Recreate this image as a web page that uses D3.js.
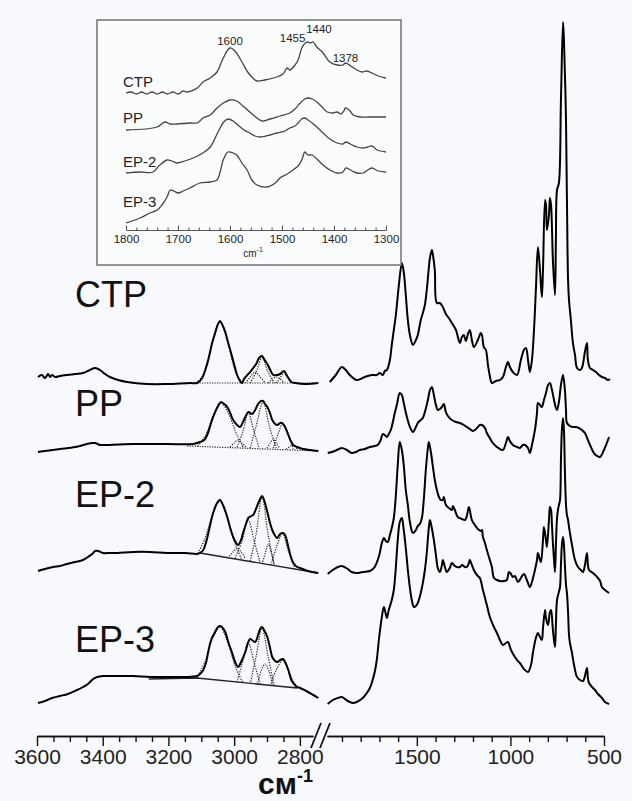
<!DOCTYPE html>
<html>
<head>
<meta charset="utf-8">
<script src="https://cdn.jsdelivr.net/npm/d3@7"></script>
<style>
  html, body { margin: 0; padding: 0; background: #f8f9fc; }
  svg { display: block; font-family: "Liberation Sans", Arial, sans-serif; }
</style>
</head>
<body>
<script>
// ---------------- data ----------------
const samples = ["CTP", "PP", "EP-2", "EP-3"];

// tick labels
const highTicks = [3600, 3400, 3200, 3000, 2800];
const lowTicks = [1500, 1000, 500];
const insetTicks = [1800, 1700, 1600, 1500, 1400, 1300];
const insetPeaks = [1600, 1455, 1440, 1378];

// C–H stretching region, 3600–2760 cm-1 (absorbance, a.u.)
const highCTP = [[3597,0.9],[3585,1.1],[3576,0.8],[3566,1.2],[3560,0.9],[3554,1.1],[3545,0.9],[3530,1.0],[3509,1.1],[3484,1.2],[3460,1.3],[3439,1.6],[3423,1.8],[3408,1.6],[3393,1.2],[3378,0.9],[3353,0.6],[3326,0.4],[3265,0.2],[3204,0.2],[3134,0.3],[3113,0.3],[3097,0.8],[3088,1.6],[3079,2.6],[3067,4.3],[3058,5.3],[3049,6.2],[3043,6.5],[3037,6.2],[3027,5.4],[3018,4.3],[3006,2.9],[2997,1.8],[2991,1.1],[2982,0.5],[2976,0.3],[2970,0.7],[2960,1.1],[2951,1.4],[2942,1.8],[2933,2.2],[2924,2.8],[2915,3.0],[2909,2.7],[2899,2.2],[2890,1.6],[2881,1.1],[2869,1.1],[2860,1.2],[2848,1.5],[2842,1.2],[2835,0.8],[2826,0.4],[2814,0.3],[2784,0.2],[2744,0.3]];
const highPP = [[3597,0.4],[3576,0.5],[3530,0.7],[3484,0.9],[3448,1.2],[3432,1.3],[3423,1.3],[3408,1.1],[3399,1.1],[3308,1.2],[3204,1.2],[3125,1.2],[3104,1.4],[3091,1.6],[3082,2.1],[3073,3.0],[3064,3.9],[3052,4.8],[3040,5.4],[3030,5.2],[3021,4.9],[3012,4.3],[3003,3.6],[2991,3.1],[2982,2.9],[2973,3.4],[2966,3.9],[2957,4.4],[2951,4.3],[2945,4.2],[2936,4.6],[2927,5.2],[2918,5.5],[2912,5.5],[2906,5.2],[2899,4.9],[2890,4.2],[2884,3.6],[2875,3.2],[2869,3.1],[2860,3.3],[2854,3.3],[2845,2.9],[2835,2.1],[2829,1.6],[2820,1.1],[2808,0.9],[2790,0.7],[2768,0.6],[2744,0.5]];
const highEP2 = [[3597,0.5],[3576,0.7],[3551,0.9],[3530,1.0],[3509,1.2],[3484,1.4],[3460,1.6],[3445,1.9],[3432,2.2],[3423,2.5],[3414,2.5],[3399,2.3],[3378,2.3],[3356,2.3],[3308,2.4],[3256,2.4],[3204,2.3],[3149,2.3],[3113,2.2],[3104,2.3],[3094,2.6],[3088,3.1],[3082,3.8],[3073,5.1],[3064,6.3],[3052,7.3],[3043,7.6],[3034,7.1],[3021,5.9],[3012,4.8],[3003,3.9],[2994,3.3],[2988,3.1],[2979,3.6],[2973,4.3],[2963,5.3],[2957,5.8],[2948,6.0],[2942,6.1],[2936,6.5],[2930,7.0],[2921,7.7],[2915,8.0],[2909,7.6],[2899,6.4],[2890,5.2],[2884,4.6],[2875,4.0],[2869,3.8],[2860,4.2],[2851,4.3],[2845,4.1],[2835,2.9],[2829,2.1],[2820,1.3],[2808,0.9],[2799,0.8],[2775,0.5],[2744,0.3]];
const highEP3 = [[3597,-1.7],[3576,-1.5],[3554,-1.2],[3530,-1.0],[3506,-0.8],[3478,-0.4],[3460,-0.1],[3445,0.2],[3429,0.7],[3417,0.9],[3399,1.0],[3362,1.0],[3308,1.0],[3256,0.9],[3204,0.9],[3149,0.9],[3113,1.0],[3104,1.2],[3094,1.6],[3085,2.4],[3079,3.4],[3070,4.6],[3058,5.4],[3049,5.9],[3043,6.0],[3037,5.9],[3027,5.4],[3018,4.4],[3006,3.3],[2997,2.4],[2988,1.9],[2979,2.4],[2966,3.4],[2957,4.4],[2951,4.7],[2942,4.5],[2936,4.4],[2927,5.1],[2921,5.7],[2915,5.9],[2909,5.6],[2899,4.9],[2890,3.7],[2884,2.9],[2875,2.5],[2869,2.4],[2860,2.6],[2851,2.7],[2845,2.4],[2835,1.6],[2826,0.6],[2820,0.3],[2808,-0.1],[2799,-0.2],[2775,-0.6],[2744,-1.2]];

// fitted component bands of the C–H region (dotted) and their baselines
const fitCTP = [
  [[3113,0.3],[3088,1.5],[3067,4.2],[3043,6.4],[3018,4.2],[2997,1.5],[2976,0.3]],
  [[2966,0.3],[2951,0.9],[2936,1.4],[2921,0.9],[2905,0.3]],
  [[2951,0.3],[2933,1.4],[2915,2.8],[2897,1.4],[2878,0.3]],
  [[2896,0.3],[2884,0.7],[2872,0.9],[2860,0.7],[2848,0.3]],
  [[2872,0.3],[2860,0.8],[2848,1.3],[2836,0.8],[2822,0.3]]
];
const fitPP = [
  [[3110,1.0],[3085,2.2],[3061,4.3],[3040,5.3],[3018,4.3],[2994,2.3],[2973,0.9]],
  [[3012,0.9],[3000,1.3],[2988,1.6],[2976,1.3],[2964,0.9]],
  [[2991,0.9],[2973,2.5],[2957,4.3],[2940,2.5],[2924,0.8]],
  [[2951,0.8],[2933,3.0],[2912,5.4],[2893,3.0],[2872,0.8]],
  [[2900,0.8],[2890,1.3],[2881,1.7],[2872,1.3],[2862,0.8]],
  [[2881,0.8],[2866,2.2],[2852,3.2],[2836,2.2],[2820,0.7]],
  [[2842,0.7],[2832,0.9],[2823,1.1],[2814,0.9],[2805,0.6]]
];
const fitEP2 = [
  [[3110,2.3],[3088,3.8],[3064,6.3],[3043,7.5],[3021,5.8],[2997,3.2],[2976,1.6]],
  [[3015,2.0],[3003,2.4],[2991,2.8],[2979,2.4],[2967,1.8]],
  [[2997,1.8],[2976,3.5],[2957,5.6],[2939,3.5],[2921,1.3]],
  [[2951,1.5],[2933,4.2],[2915,7.9],[2897,4.2],[2878,1.1]],
  [[2915,1.2],[2905,2.3],[2896,3.2],[2887,2.3],[2878,1.1]],
  [[2888,1.1],[2872,2.8],[2853,4.2],[2836,2.6],[2815,0.7]]
];
const fitEP3 = [
  [[3113,0.8],[3088,2.5],[3064,4.9],[3043,5.9],[3021,4.5],[2997,2.0],[2973,0.3]],
  [[2991,0.4],[2975,2.3],[2957,4.3],[2939,2.3],[2921,0.2]],
  [[2951,0.2],[2933,3.0],[2915,5.8],[2897,3.0],[2878,0.0]],
  [[2930,0.1],[2918,1.5],[2906,2.2],[2894,1.5],[2882,0.0]],
  [[2890,0.0],[2872,1.6],[2851,2.6],[2833,1.4],[2812,-0.2]]
];
const baseCTP = [[3113,0.3],[2744,0.3]];
const basePP = [[3143,1.0],[2744,0.5]];
const baseEP2 = [[3104,2.3],[2744,0.3]];
const baseEP3 = [[3260,0.7],[3113,0.8],[2808,-0.2]];

// fingerprint region, 1980–470 cm-1 (absorbance, a.u.)
const lowCTP = [[1965,0.4],[1933,1.1],[1901,1.9],[1880,1.6],[1858,1.1],[1821,0.6],[1778,0.9],[1741,1.1],[1714,1.1],[1698,1.3],[1682,1.1],[1671,1.5],[1660,1.6],[1644,2.6],[1634,4.1],[1623,5.6],[1612,7.1],[1596,10.1],[1580,12.3],[1570,11.4],[1559,9.1],[1548,6.6],[1537,5.1],[1521,4.1],[1505,4.6],[1495,5.1],[1479,6.6],[1468,7.3],[1457,8.1],[1447,9.6],[1436,11.8],[1430,12.8],[1420,13.6],[1414,13.1],[1404,11.6],[1393,8.3],[1377,8.3],[1361,7.9],[1345,7.2],[1329,6.8],[1313,6.3],[1291,5.6],[1270,4.3],[1259,4.9],[1249,5.1],[1238,4.5],[1227,5.2],[1217,5.6],[1206,4.6],[1195,3.9],[1174,4.6],[1158,5.3],[1152,5.1],[1142,3.9],[1131,3.6],[1120,2.1],[1110,1.0],[1099,0.3],[1078,0.5],[1056,0.6],[1040,0.9],[1024,1.9],[1013,2.4],[1003,1.9],[987,1.4],[965,1.1],[944,2.6],[928,3.6],[917,3.8],[906,2.6],[896,1.4],[885,2.6],[874,5.6],[864,9.6],[853,13.9],[842,11.6],[832,8.9],[826,11.6],[815,18.6],[810,18.1],[805,15.6],[794,17.1],[789,18.8],[783,18.1],[773,12.6],[762,9.1],[757,14.6],[751,19.6],[741,20.3],[730,28.6],[719,36.4],[714,34.6],[703,26.6],[698,18.6],[692,10.6],[687,8.6],[677,6.6],[666,4.3],[655,3.1],[644,1.8],[628,1.6],[618,1.8],[602,3.4],[591,4.3],[586,2.6],[575,1.8],[559,1.6],[543,1.4],[527,1.1],[511,0.9],[495,0.8],[479,0.6],[468,0.7]];
const lowPP = [[1976,0.3],[1939,0.5],[1901,0.8],[1874,0.6],[1848,0.3],[1826,0.4],[1805,0.6],[1778,0.7],[1751,0.9],[1725,1.0],[1709,1.1],[1693,1.6],[1682,2.2],[1671,2.1],[1660,1.9],[1650,2.2],[1639,2.6],[1628,3.4],[1618,4.3],[1607,5.1],[1591,6.3],[1580,6.1],[1570,5.3],[1553,3.9],[1537,2.9],[1521,2.4],[1505,2.9],[1495,3.3],[1479,3.6],[1468,3.8],[1457,4.4],[1441,5.6],[1430,6.6],[1420,6.9],[1409,6.1],[1398,5.1],[1388,4.6],[1377,4.7],[1366,4.9],[1356,5.2],[1345,4.4],[1334,4.0],[1313,3.6],[1291,3.4],[1270,3.3],[1249,3.1],[1233,2.9],[1217,2.7],[1201,2.5],[1184,2.7],[1174,2.9],[1163,3.1],[1152,3.1],[1136,2.8],[1126,2.3],[1110,1.8],[1094,1.3],[1072,0.9],[1056,0.7],[1040,0.6],[1024,1.3],[1013,1.9],[1003,1.5],[987,1.1],[965,0.9],[949,0.8],[933,1.1],[922,1.1],[906,0.8],[896,0.3],[885,1.1],[869,2.6],[858,4.3],[853,5.3],[842,5.1],[832,4.9],[821,5.6],[810,6.3],[799,7.1],[789,7.3],[778,6.6],[767,5.6],[757,4.8],[751,4.6],[741,5.4],[730,7.1],[719,8.1],[709,6.6],[703,4.6],[698,3.3],[682,3.0],[666,2.9],[650,2.9],[634,2.8],[618,2.6],[602,2.3],[586,1.6],[570,0.9],[554,0.3],[537,0.0],[521,-0.1],[505,0.4],[489,1.1],[473,1.9]];
const lowEP2 = [[1976,0.2],[1949,0.6],[1922,0.9],[1901,1.0],[1869,0.7],[1848,0.4],[1821,0.3],[1789,0.4],[1751,0.5],[1735,0.7],[1725,0.9],[1709,1.6],[1698,2.3],[1687,3.3],[1676,3.8],[1666,3.5],[1655,3.4],[1644,4.1],[1634,4.8],[1623,5.8],[1612,8.1],[1602,11.1],[1591,13.4],[1580,12.6],[1570,11.1],[1559,8.6],[1548,7.1],[1537,5.4],[1521,4.3],[1505,4.6],[1495,5.0],[1484,5.2],[1473,5.8],[1463,7.6],[1452,10.6],[1441,12.8],[1436,13.4],[1425,12.4],[1414,10.9],[1404,9.6],[1393,8.6],[1382,7.9],[1372,7.6],[1361,7.6],[1356,7.9],[1345,7.1],[1329,6.8],[1313,6.6],[1307,7.0],[1297,6.6],[1281,5.9],[1259,5.7],[1243,5.6],[1233,6.0],[1222,6.9],[1217,6.6],[1206,5.6],[1190,5.1],[1174,4.7],[1158,4.5],[1152,4.6],[1147,3.9],[1136,3.3],[1126,2.6],[1110,1.6],[1099,0.9],[1088,-0.2],[1072,-0.4],[1056,-0.5],[1035,-0.5],[1019,-0.4],[1008,0.4],[997,0.2],[987,-0.1],[976,0.0],[960,-0.6],[944,-0.2],[928,0.2],[912,-0.4],[896,-1.1],[885,-0.6],[874,0.2],[869,0.6],[858,1.6],[853,2.3],[842,1.6],[837,1.4],[826,3.6],[821,4.9],[810,3.6],[805,2.9],[794,5.6],[789,6.9],[783,6.6],[778,5.1],[773,3.3],[767,1.6],[762,0.4],[757,3.1],[751,5.8],[746,6.6],[741,7.1],[735,7.6],[730,11.6],[725,14.6],[719,15.8],[714,14.6],[709,10.6],[703,7.1],[698,6.1],[692,5.6],[687,4.9],[682,4.3],[671,3.1],[655,1.6],[639,0.9],[623,0.6],[612,0.4],[602,1.1],[591,2.3],[586,1.1],[580,0.6],[559,0.3],[537,-0.1],[521,-0.5],[511,-1.1],[495,-1.4],[473,-1.7]];
const lowEP3 = [[1976,-1.8],[1949,-1.4],[1922,-1.2],[1901,-1.1],[1869,-1.5],[1842,-1.7],[1821,-1.6],[1789,-1.2],[1767,-0.7],[1751,-0.2],[1741,0.3],[1725,1.4],[1714,2.6],[1703,4.6],[1693,6.1],[1687,6.9],[1676,7.9],[1666,7.2],[1660,6.8],[1650,7.6],[1634,8.6],[1623,9.6],[1612,11.9],[1602,14.6],[1591,16.4],[1580,16.8],[1570,15.6],[1559,13.8],[1548,11.6],[1537,9.8],[1527,8.6],[1516,7.9],[1505,8.0],[1495,8.3],[1479,9.3],[1468,10.3],[1457,11.6],[1447,13.3],[1436,15.8],[1430,16.6],[1420,15.8],[1409,14.6],[1398,13.1],[1388,11.8],[1377,11.4],[1366,12.1],[1361,12.6],[1350,11.9],[1340,11.4],[1324,11.8],[1313,12.3],[1297,12.0],[1286,11.9],[1270,11.9],[1259,12.1],[1243,11.9],[1233,11.9],[1222,12.3],[1217,12.6],[1206,12.1],[1190,11.4],[1174,11.0],[1163,10.8],[1147,9.6],[1126,8.1],[1110,6.9],[1088,5.9],[1072,5.3],[1056,4.6],[1040,4.1],[1024,4.3],[1013,4.4],[997,3.6],[976,2.9],[960,2.5],[949,2.3],[928,1.7],[906,1.4],[890,2.1],[880,3.3],[864,4.8],[853,5.3],[842,4.9],[832,4.6],[826,5.8],[815,7.6],[810,6.8],[799,6.1],[789,7.4],[783,7.6],[773,5.6],[762,3.9],[757,6.1],[751,8.6],[741,9.4],[735,9.9],[730,12.1],[725,14.1],[719,14.9],[714,14.1],[709,12.1],[703,10.1],[698,9.3],[692,7.4],[687,5.1],[682,4.3],[671,3.3],[660,2.1],[644,0.9],[628,0.6],[612,0.5],[602,1.0],[591,1.8],[586,0.8],[580,0.3],[564,-0.1],[548,-0.4],[532,-0.8],[511,-1.2],[495,-1.6],[473,-1.8]];

// expanded 1800–1300 cm-1 window (inset)
const insetCTP = [[1800,0.2],[1790,0.3],[1780,0.1],[1770,0.3],[1760,0.1],[1750,0.3],[1740,0.1],[1730,0.3],[1720,0.1],[1710,0.3],[1700,0.1],[1690,0.4],[1683,0.3],[1663,0.7],[1652,1.3],[1638,1.7],[1625,2.3],[1613,3.7],[1600,4.7],[1589,4.3],[1577,3.3],[1566,2.3],[1556,1.7],[1548,1.4],[1533,1.5],[1510,1.8],[1498,2.1],[1490,2.7],[1485,2.5],[1475,3.0],[1469,3.5],[1462,4.7],[1455,5.2],[1450,5.3],[1446,5.2],[1440,5.3],[1433,4.8],[1421,4.2],[1408,3.3],[1394,3.0],[1383,3.0],[1378,3.2],[1365,2.8],[1356,2.5],[1346,2.3],[1337,2.4],[1327,2.2],[1315,1.9],[1300,1.7]];
const insetPP = [[1800,0.0],[1740,0.3],[1725,0.8],[1715,0.6],[1702,0.6],[1677,0.7],[1663,0.7],[1658,0.9],[1652,1.2],[1638,1.5],[1625,2.2],[1613,2.7],[1600,3.0],[1587,2.9],[1575,2.4],[1562,1.8],[1548,1.2],[1538,0.9],[1523,1.1],[1504,1.4],[1485,1.7],[1475,2.1],[1465,2.7],[1456,3.1],[1450,3.2],[1442,3.1],[1433,2.8],[1423,2.3],[1413,1.8],[1402,1.7],[1394,1.8],[1387,1.6],[1381,1.9],[1378,2.2],[1369,1.9],[1363,1.5],[1350,1.3],[1331,1.3],[1300,1.3]];
const insetEP2 = [[1800,0.2],[1773,0.3],[1748,0.3],[1735,1.0],[1721,1.5],[1712,1.4],[1702,1.2],[1687,1.4],[1671,1.7],[1652,2.2],[1638,2.8],[1623,4.3],[1612,5.3],[1604,5.6],[1594,5.4],[1585,5.0],[1573,4.5],[1562,4.2],[1552,3.9],[1542,3.8],[1523,4.0],[1510,4.2],[1494,4.4],[1485,4.7],[1475,4.9],[1469,5.2],[1462,5.6],[1456,5.7],[1450,5.5],[1442,5.2],[1433,4.8],[1421,4.2],[1408,3.6],[1394,3.2],[1383,3.1],[1377,3.3],[1365,3.0],[1356,2.8],[1344,2.7],[1335,2.8],[1327,2.9],[1317,2.5],[1300,2.3]];
const insetEP3 = [[1800,0.2],[1773,0.7],[1754,1.2],[1740,1.5],[1731,2.0],[1721,2.8],[1715,3.5],[1708,3.4],[1700,3.2],[1690,3.4],[1677,3.7],[1658,4.2],[1638,4.3],[1625,4.5],[1619,5.3],[1613,6.5],[1604,7.3],[1594,7.2],[1587,7.0],[1577,6.2],[1567,5.5],[1558,4.5],[1548,4.0],[1529,3.8],[1513,4.2],[1504,4.7],[1490,5.1],[1479,5.5],[1469,5.9],[1462,6.5],[1456,7.3],[1450,7.0],[1442,7.0],[1433,6.6],[1421,6.0],[1408,5.5],[1394,5.2],[1383,5.3],[1377,5.7],[1365,5.4],[1356,5.2],[1344,5.2],[1335,5.5],[1327,5.7],[1315,5.4],[1300,5.3]];

// ---------------- layout ----------------
const W = 632, H = 801;
const svg = d3.select("body").append("svg").attr("width", W).attr("height", H);
svg.append("rect").attr("width", W).attr("height", H).attr("fill", "#f8f9fc");

const axisY = 736;
const xHigh = d3.scaleLinear().domain([3600, 2760]).range([37, 313]);
const xLow = d3.scaleLinear().domain([1980, 500]).range([327, 604]);
const y = d3.scaleLinear().domain([0, 72]).range([axisY, 16]);
const offsets = [35, 28, 16, 5];   // vertical stacking of the four spectra

const highData = [highCTP, highPP, highEP2, highEP3];
const lowData = [lowCTP, lowPP, lowEP2, lowEP3];
const fits = [fitCTP, fitPP, fitEP2, fitEP3];
const bases = [baseCTP, basePP, baseEP2, baseEP3];

function lineGen(xs, ys, off, curve) {
  return d3.line()
    .x(d => xs(d[0]))
    .y(d => ys(d[1] + off))
    .curve(curve || d3.curveCatmullRom.alpha(0.5));
}

const plot = svg.append("g");
samples.forEach((name, i) => {
  const off = offsets[i];
  // fitted bands
  fits[i].forEach(band => {
    plot.append("path").attr("d", lineGen(xHigh, y, off)(band))
      .attr("fill", "none").attr("stroke", "#222").attr("stroke-width", 1.2)
      .attr("stroke-dasharray", "1.2,1.3");
  });
  plot.append("path").attr("d", lineGen(xHigh, y, off, d3.curveLinear)(bases[i]))
    .attr("fill", "none").attr("stroke", "#222")
    .attr("stroke-width", i >= 2 ? 1.4 : 1.2)
    .attr("stroke-dasharray", i >= 2 ? null : "1.2,1.3");
  // measured spectra
  plot.append("path").attr("d", lineGen(xHigh, y, off)(highData[i]))
    .attr("fill", "none").attr("stroke", "#000").attr("stroke-width", 2)
    .attr("stroke-linejoin", "round");
  plot.append("path").attr("d", lineGen(xLow, y, off)(lowData[i]))
    .attr("fill", "none").attr("stroke", "#000").attr("stroke-width", 2)
    .attr("stroke-linejoin", "round");
});

// sample labels
const labelY = [307, 416, 507, 652];
svg.append("g").selectAll("text").data(samples).join("text")
  .attr("x", 75).attr("y", (d, i) => labelY[i])
  .attr("font-size", 36).attr("fill", "#111").text(d => d);

// ---------------- x axis with break ----------------
function styleAxis(g, fontSize) {
  g.select(".domain").attr("stroke", "#111").attr("stroke-width", 1.5);
  g.selectAll(".tick line").attr("stroke", "#111").attr("stroke-width", 1.4);
  g.selectAll(".tick text").attr("fill", "#222").attr("font-size", fontSize)
    .attr("font-family", "Liberation Sans, Arial, sans-serif");
}
const highMinor = d3.range(3550, 2760, -50).filter(v => !highTicks.includes(v));
const lowMinor = d3.range(1900, 500, -100).filter(v => !lowTicks.includes(v));

const gx1 = svg.append("g").attr("transform", `translate(0,${axisY})`)
  .call(d3.axisBottom(xHigh).tickValues(highMinor).tickSize(6).tickSizeOuter(0).tickFormat(""));
styleAxis(gx1, 21);
const gx2 = svg.append("g").attr("transform", `translate(0,${axisY})`)
  .call(d3.axisBottom(xHigh).tickValues(highTicks).tickSize(10).tickSizeOuter(0).tickPadding(3).tickFormat(d3.format("d")));
styleAxis(gx2, 21);
const gx3 = svg.append("g").attr("transform", `translate(0,${axisY})`)
  .call(d3.axisBottom(xLow).tickValues(lowMinor).tickSize(6).tickSizeOuter(0).tickFormat(""));
styleAxis(gx3, 21);
const gx4 = svg.append("g").attr("transform", `translate(0,${axisY})`)
  .call(d3.axisBottom(xLow).tickValues(lowTicks).tickSize(10).tickSizeOuter(0).tickPadding(3).tickFormat(d3.format("d")));
styleAxis(gx4, 21);

// break marks
const bx = xHigh.range()[1];
[0, 9].forEach(dx => {
  svg.append("line")
    .attr("x1", bx - 2 + dx).attr("y1", axisY + 12)
    .attr("x2", bx + 8 + dx).attr("y2", axisY - 13)
    .attr("stroke", "#111").attr("stroke-width", 1.8);
});

// axis title
const title = svg.append("text").attr("x", 258).attr("y", 794)
  .attr("font-size", 30).attr("font-weight", "bold").attr("fill", "#111");
title.append("tspan").text("см");
title.append("tspan").attr("dy", -12).attr("font-size", 18).text("-1");

// ---------------- inset ----------------
const inset = svg.append("g");
inset.append("rect").attr("x", 97).attr("y", 20).attr("width", 304).attr("height", 245)
  .attr("fill", "#fbfcfe").attr("stroke", "#7a7a7a").attr("stroke-width", 1.6);

const xIn = d3.scaleLinear().domain([1800, 1300]).range([126, 386]);
const yIn = d3.scaleLinear().domain([0, 21]).range([230, 20]);
const inOffsets = [13.5, 10, 5.5, 0.5];
const insetData = [insetCTP, insetPP, insetEP2, insetEP3];

insetData.forEach((d, i) => {
  inset.append("path").attr("d", lineGen(xIn, yIn, inOffsets[i])(d))
    .attr("fill", "none").attr("stroke", "#444").attr("stroke-width", 1.3)
    .attr("stroke-linejoin", "round");
});

const inLabelY = [87, 123, 167, 207];
inset.selectAll("text.s").data(samples).join("text").attr("class", "s")
  .attr("x", 123).attr("y", (d, i) => inLabelY[i])
  .attr("font-size", 15).attr("fill", "#222").text(d => d);

// peak annotations
const peakPos = [
  { anchor: "middle", dx: 0, y: 45 },
  { anchor: "end", dx: 0, y: 42 },
  { anchor: "start", dx: -7, y: 33 },
  { anchor: "middle", dx: 0, y: 62 }
];
inset.selectAll("text.p").data(insetPeaks).join("text").attr("class", "p")
  .attr("x", (d, i) => xIn(d) + peakPos[i].dx)
  .attr("y", (d, i) => peakPos[i].y)
  .attr("text-anchor", (d, i) => peakPos[i].anchor)
  .attr("font-size", 11.5).attr("fill", "#222").text(d => d);

const insetMinor = d3.range(1780, 1300, -20).filter(v => !insetTicks.includes(v));
const gi1 = inset.append("g").attr("transform", "translate(0,230)")
  .call(d3.axisBottom(xIn).tickValues(insetMinor).tickSizeInner(-2.5).tickSizeOuter(0).tickFormat(""));
const gi2 = inset.append("g").attr("transform", "translate(0,230)")
  .call(d3.axisBottom(xIn).tickValues(insetTicks).tickSizeInner(-4.5).tickSizeOuter(0).tickPadding(5).tickFormat(d3.format("d")));
[gi1, gi2].forEach(g => {
  g.select(".domain").attr("stroke", "#555").attr("stroke-width", 1.1);
  g.selectAll(".tick line").attr("stroke", "#555").attr("stroke-width", 1);
  g.selectAll(".tick text").attr("fill", "#222").attr("font-size", 11.5)
    .attr("font-family", "Liberation Sans, Arial, sans-serif");
});
const inTitle = inset.append("text").attr("x", 253).attr("y", 257)
  .attr("text-anchor", "middle").attr("font-size", 10).attr("fill", "#222");
inTitle.append("tspan").text("cm");
inTitle.append("tspan").attr("dy", -5).attr("font-size", 7).text("-1");
</script>
</body>
</html>
